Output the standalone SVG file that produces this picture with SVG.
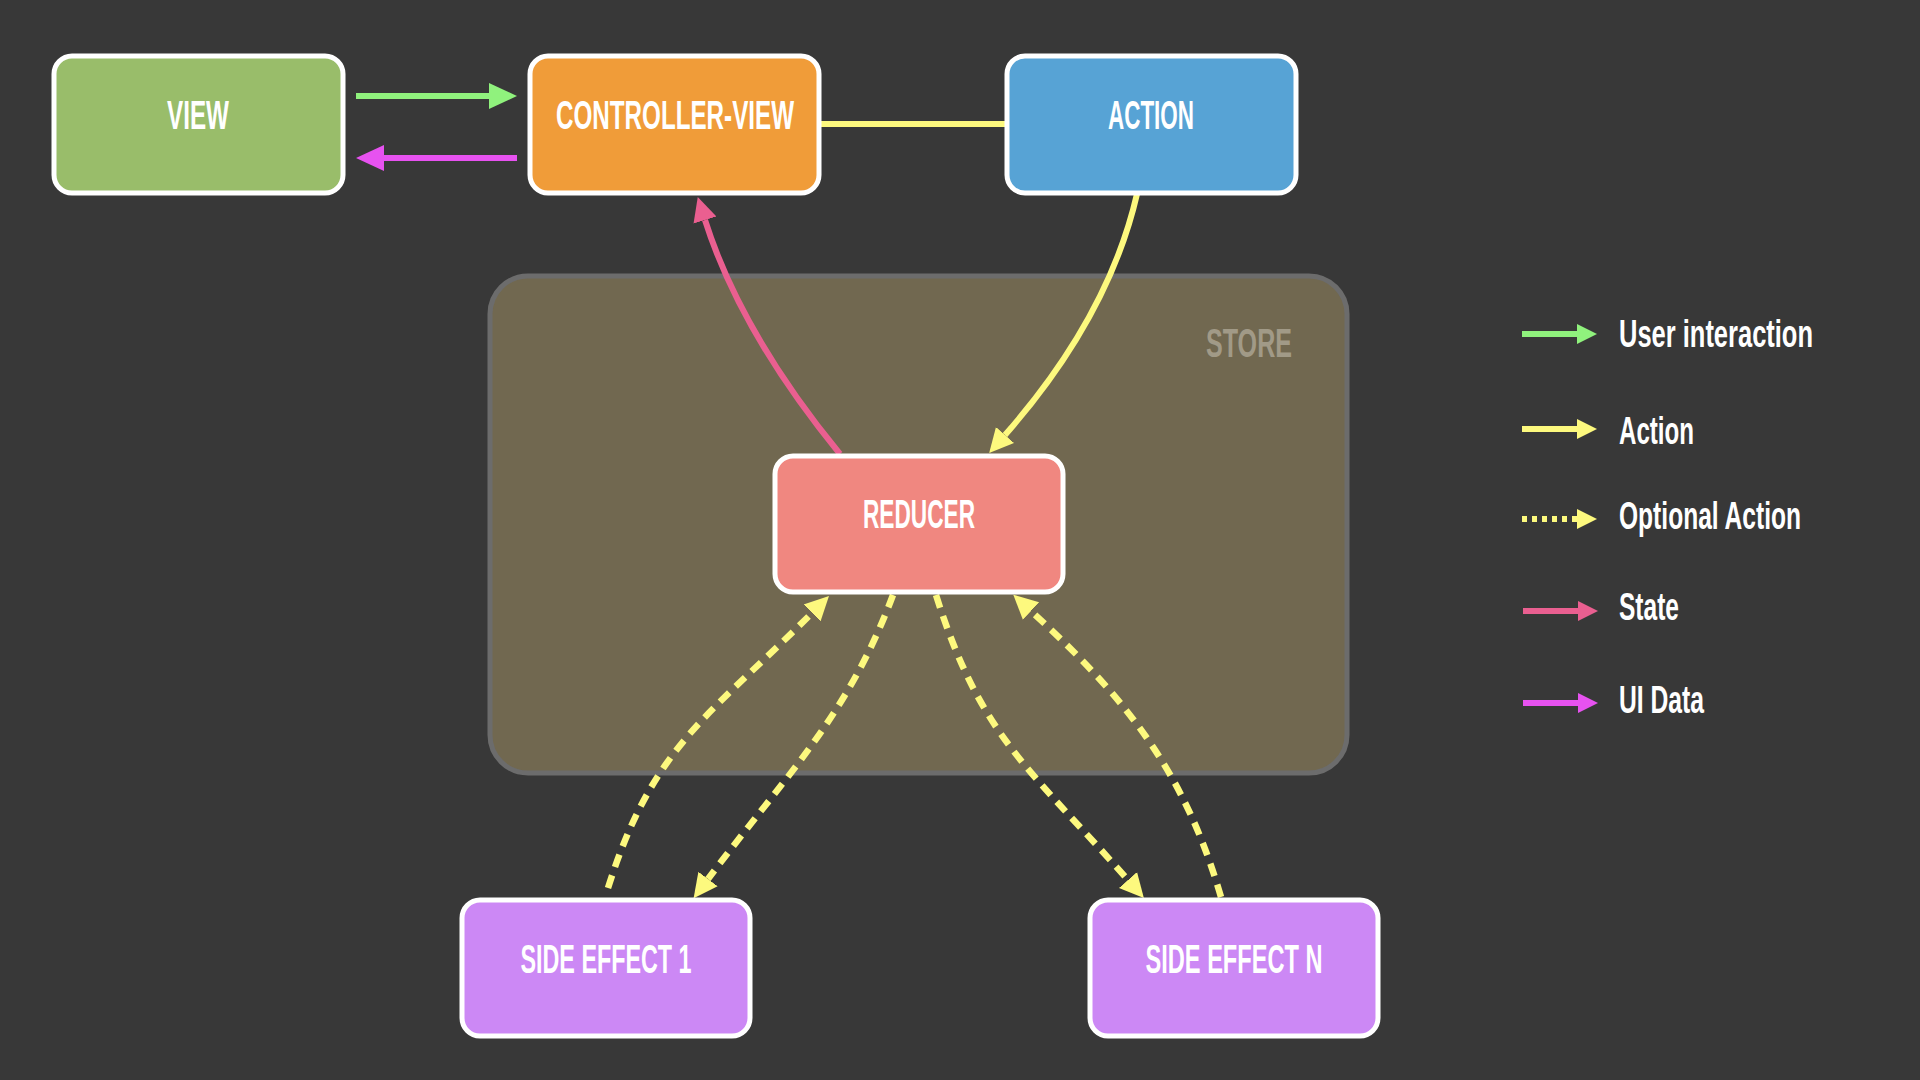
<svg xmlns="http://www.w3.org/2000/svg" width="1920" height="1080" viewBox="0 0 1920 1080">
<style>
  .node{stroke:#ffffff;stroke-width:5}
  .lbl{font-family:"Liberation Sans","Roboto",sans-serif;font-weight:bold;font-size:40px;fill:#ffffff;text-anchor:middle}
  .leg{font-family:"Liberation Sans","Roboto",sans-serif;font-weight:bold;font-size:39px;fill:#ffffff}
  .c{fill:none;stroke-width:6}
  .green{stroke:#90f27d}
  .yellow{stroke:#fdf97e}
  .pink{stroke:#ea5f90}
  .mag{stroke:#e752f0}
  .dash{stroke-dasharray:13 9;stroke-width:6.5}
  .dot{stroke-dasharray:5 5}
</style>
<defs>
  <marker id="hG" markerUnits="userSpaceOnUse" orient="auto" markerWidth="30" markerHeight="30" refX="0" refY="13" viewBox="0 0 30 26"><path d="M0,0 L28,13 L0,26 z" fill="#90f27d"/></marker>
  <marker id="hM" markerUnits="userSpaceOnUse" orient="auto" markerWidth="30" markerHeight="30" refX="0" refY="13" viewBox="0 0 30 26"><path d="M0,0 L28,13 L0,26 z" fill="#e752f0"/></marker>
  <marker id="hY" markerUnits="userSpaceOnUse" orient="auto" markerWidth="26" markerHeight="26" refX="0" refY="12" viewBox="0 0 26 24"><path d="M0,0 L24,12 L0,24 z" fill="#fdf97e"/></marker>
  <marker id="hP" markerUnits="userSpaceOnUse" orient="auto" markerWidth="26" markerHeight="26" refX="0" refY="12" viewBox="0 0 26 24"><path d="M0,0 L24,12 L0,24 z" fill="#ea5f90"/></marker>
  <marker id="lG" markerUnits="userSpaceOnUse" orient="auto" markerWidth="22" markerHeight="22" refX="0" refY="10" viewBox="0 0 22 20"><path d="M0,0 L20,10 L0,20 z" fill="#90f27d"/></marker>
  <marker id="lY" markerUnits="userSpaceOnUse" orient="auto" markerWidth="22" markerHeight="22" refX="0" refY="10" viewBox="0 0 22 20"><path d="M0,0 L20,10 L0,20 z" fill="#fdf97e"/></marker>
  <marker id="lP" markerUnits="userSpaceOnUse" orient="auto" markerWidth="22" markerHeight="22" refX="0" refY="10" viewBox="0 0 22 20"><path d="M0,0 L20,10 L0,20 z" fill="#ea5f90"/></marker>
  <marker id="lM" markerUnits="userSpaceOnUse" orient="auto" markerWidth="22" markerHeight="22" refX="0" refY="10" viewBox="0 0 22 20"><path d="M0,0 L20,10 L0,20 z" fill="#e752f0"/></marker>
</defs>
<rect x="0" y="0" width="1920" height="1080" fill="#383838"/>

<g id="store">
  <rect x="490" y="276" width="857" height="497" rx="38" fill="#716850" stroke="#6c6c6c" stroke-width="5"/>
  <text x="1249" y="357" class="lbl" style="fill:#a19a87" textLength="86" lengthAdjust="spacingAndGlyphs">STORE</text>
</g>

<g id="connectors">
  <path class="c green" d="M356,96 L489,96" marker-end="url(#hG)"/>
  <path class="c mag" d="M517,158 L384,158" marker-end="url(#hM)"/>
  <path class="c yellow" d="M819,124 L1007,124"/>
  <path class="c yellow" d="M1137,194 Q1108.7,317 1005,435" marker-end="url(#hY)"/>
  <path class="c pink" d="M840,454 Q740.6,332.5 705,220" marker-end="url(#hP)"/>
  <path class="c yellow dash" d="M608,888 C653,745.5 707,718 812,613" marker-end="url(#hY)"/>
  <path class="c yellow dash" d="M893,595 C847.5,717 786,775 708,879" marker-end="url(#hY)"/>
  <path class="c yellow dash" d="M936,595 C981,737.5 1029,767.5 1128,880" marker-end="url(#hY)"/>
  <path class="c yellow dash" d="M1221,897 C1184.6,772 1127,699 1031,611" marker-end="url(#hY)"/>
</g>

<g id="view">
  <rect class="node" x="54" y="56" width="289" height="137" rx="18" fill="#99bd6a"/>
  <text class="lbl" x="198" y="129" textLength="62" lengthAdjust="spacingAndGlyphs">VIEW</text>
</g>
<g id="controller-view">
  <rect class="node" x="530" y="56" width="289" height="137" rx="18" fill="#f09c39"/>
  <text class="lbl" x="675" y="129" textLength="238" lengthAdjust="spacingAndGlyphs">CONTROLLER-VIEW</text>
</g>
<g id="action">
  <rect class="node" x="1007" y="56" width="289" height="137" rx="18" fill="#57a3d5"/>
  <text class="lbl" x="1151" y="129" textLength="86" lengthAdjust="spacingAndGlyphs">ACTION</text>
</g>
<g id="reducer">
  <rect class="node" x="775" y="456" width="288" height="136" rx="18" fill="#f08780"/>
  <text class="lbl" x="919" y="528" textLength="112" lengthAdjust="spacingAndGlyphs">REDUCER</text>
</g>
<g id="side-effect-1">
  <rect class="node" x="462" y="900" width="288" height="136" rx="18" fill="#cc88f5"/>
  <text class="lbl" x="606" y="973" textLength="171" lengthAdjust="spacingAndGlyphs">SIDE EFFECT 1</text>
</g>
<g id="side-effect-n">
  <rect class="node" x="1090" y="900" width="288" height="136" rx="18" fill="#cc88f5"/>
  <text class="lbl" x="1234" y="973" textLength="177" lengthAdjust="spacingAndGlyphs">SIDE EFFECT N</text>
</g>

<g id="legend">
  <path class="c green" d="M1522,334 L1577,334" marker-end="url(#lG)"/>
  <text class="leg" x="1619" y="347" textLength="194" lengthAdjust="spacingAndGlyphs">User interaction</text>
  <path class="c yellow" d="M1522,429 L1577,429" marker-end="url(#lY)"/>
  <text class="leg" x="1619" y="444" textLength="75" lengthAdjust="spacingAndGlyphs">Action</text>
  <path class="c yellow dot" d="M1522,519 L1577,519" marker-end="url(#lY)"/>
  <text class="leg" x="1619" y="529" textLength="182" lengthAdjust="spacingAndGlyphs">Optional Action</text>
  <path class="c pink" d="M1523,611 L1578,611" marker-end="url(#lP)"/>
  <text class="leg" x="1619" y="620" textLength="60" lengthAdjust="spacingAndGlyphs">State</text>
  <path class="c mag" d="M1523,703 L1578,703" marker-end="url(#lM)"/>
  <text class="leg" x="1619" y="713" textLength="85" lengthAdjust="spacingAndGlyphs">UI Data</text>
</g>
</svg>
